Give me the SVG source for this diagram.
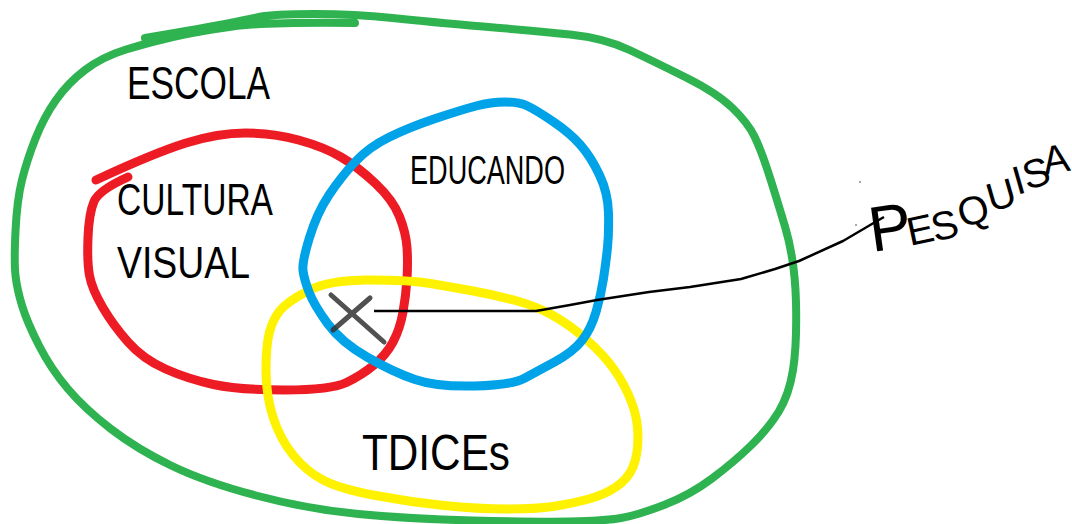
<svg xmlns="http://www.w3.org/2000/svg" width="1072" height="524" viewBox="0 0 1072 524">
<style>
.stroke{fill:none;stroke-linecap:round;stroke-linejoin:round}
.green{stroke:#2fb351;stroke-width:8}
.red{stroke:#ed1c24;stroke-width:9}
.blue{stroke:#00a2e8;stroke-width:9}
.yellow{stroke:#fff200;stroke-width:9}
.lbl{font-family:"Liberation Sans",Arial,sans-serif;fill:#000}
</style>
<rect width="1072" height="524" fill="#fff"/>
<g id="escola">
<path class="stroke green" d="M145,38 Q205,28 225,24 Q245,20 259,17 Q273,14 314,14 Q355,14 392.5,18 Q430,22 483,26.5 Q536,31 570,34.5 Q604,38 629.5,50 Q655,62 686,77.5 Q717,93 732.5,108 Q748,123 754.5,136.5 Q761,150 768,171.5 Q775,193 785,226.5 Q795,260 796,302.5 Q797,345 793,370 Q789,395 778.5,412 Q768,429 751,445.5 Q734,462 712,478.5 Q690,495 664,505 Q638,515 621,518 Q604,521 570,521.5 Q536,522 473,520.5 Q410,519 358.5,514 Q307,509 256,495.5 Q205,482 171,465.5 Q137,449 111,429 Q85,409 68,389 Q51,369 39,345.5 Q27,322 22,305.5 Q17,289 15.5,275.5 Q14,262 15.5,231 Q17,200 22,180 Q27,160 35.5,138.5 Q44,117 56,100 Q68,83 85,70 Q102,57 126,49.5 Q150,42 175,36.5 Q200,31 232.5,26.5 Q265,22 355,23"/>
<text class="lbl" x="127" y="99" font-size="46" textLength="143" lengthAdjust="spacingAndGlyphs">ESCOLA</text>
</g>
<g id="cultura-visual">
<path class="stroke red" d="M96,180 Q154,153 186,143 Q218,133 245.5,133 Q273,133 298.5,140 Q324,147 341,157 Q358,167 375.5,183.5 Q393,200 399.5,216.5 Q406,233 407,247.5 Q408,262 407,278.5 Q406,295 403,312 Q400,329 393,342 Q386,355 374,365 Q362,375 346.5,382.5 Q331,390 285,390 Q239,390 213.5,384.5 Q188,379 165.5,369 Q143,359 128,342 Q113,325 102.5,307 Q92,289 89.5,275.5 Q87,262 88,237.5 Q89,213 94,201.5 Q99,190 128,177"/>
<text class="lbl" x="117" y="215" font-size="44" textLength="156" lengthAdjust="spacingAndGlyphs">CULTURA</text>
<text class="lbl" x="117" y="278" font-size="44" textLength="133" lengthAdjust="spacingAndGlyphs">VISUAL</text>
</g>
<g id="tdices">
<path class="stroke yellow" d="M307.5,291 Q328,280 369,280 Q410,280 430.5,283.5 Q451,287 473,291 Q495,295 515.5,300.5 Q536,306 553,315.5 Q570,325 587,340 Q604,355 614.5,370 Q625,385 631.5,402 Q638,419 638,437 Q638,455 633,467 Q628,479 616,487 Q604,495 587,499.5 Q570,504 553,506.5 Q536,509 507,509 Q478,509 444,505.5 Q410,502 375.5,495.5 Q341,489 324,480.5 Q307,472 293.5,455.5 Q280,439 273,417 Q266,395 266,370 Q266,345 269.5,332 Q273,319 280,310.5 Q287,302 307.5,291 Z"/>
<text class="lbl" x="362" y="470" font-size="50" textLength="148" lengthAdjust="spacingAndGlyphs">TDICEs</text>
</g>
<g id="educando">
<path class="stroke blue" d="M303,270.5 Q302,262 309.5,237.5 Q317,213 329,195 Q341,177 355,162 Q369,147 389.5,137 Q410,127 435.5,118.5 Q461,110 476,106 Q491,102 505,102 Q519,102 527.5,106 Q536,110 553,121.5 Q570,133 580.5,145 Q591,157 599.5,175 Q608,193 608.5,213 Q609,233 607.5,247.5 Q606,262 603.5,278.5 Q601,295 596,312 Q591,329 582,340.5 Q573,352 554.5,362 Q536,372 524,378.5 Q512,385 474.5,386 Q437,387 415,379.5 Q393,372 367,357 Q341,342 327.5,323.5 Q314,305 309,292 Q304,279 303,270.5 Z"/>
<text class="lbl" x="410" y="184" font-size="40" textLength="155" lengthAdjust="spacingAndGlyphs">EDUCANDO</text>
</g>
<g id="connectors">
<path d="M331,295 L384,342 M370,298 L333,330" fill="none" stroke="#333" stroke-width="5" stroke-linecap="round" opacity="0.85"/>
<path d="M374,311 L536,311 L570,305 L597,300 L649,292 L690,287 L741,279 L775,269 L799,261 L843,241 L877,221 L884,217" fill="none" stroke="#000" stroke-width="2.5" stroke-linejoin="round"/>
</g>
<g id="pesquisa">
<text class="lbl" transform="translate(872,252) rotate(-8)" font-size="64">P</text>
<text class="lbl" font-size="40" x="910 935 962 991 1017 1027 1045" y="246 242 228 212 195 190 175" rotate="-12 -14 -16 -16 -16 -16 -10">ESQUISA</text>
<circle cx="860" cy="182" r="1" fill="#888"/>
<circle cx="856" cy="225" r="1" fill="#888"/>
</g>
</svg>
